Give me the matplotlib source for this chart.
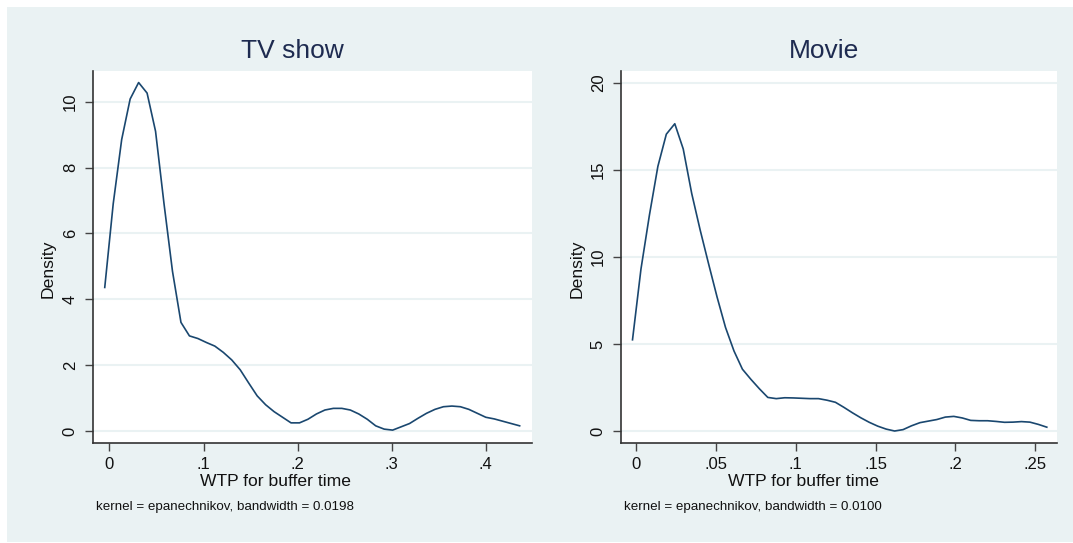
import numpy as np
import matplotlib
matplotlib.use('Agg')
import matplotlib.pyplot as plt
from matplotlib.patches import Rectangle

plt.rcParams['font.family'] = ['Liberation Sans', 'DejaVu Sans']

# kernel density estimates, 50 grid points per group
tv_x = [-0.005, 0.004, 0.013, 0.022, 0.031, 0.040, 0.049, 0.058, 0.067, 0.076,
        0.085, 0.094, 0.103, 0.112, 0.121, 0.130, 0.139, 0.148, 0.157, 0.166,
        0.175, 0.184, 0.193, 0.202, 0.211, 0.220, 0.229, 0.238, 0.247, 0.256,
        0.265, 0.274, 0.283, 0.292, 0.301, 0.310, 0.319, 0.328, 0.337, 0.346,
        0.355, 0.364, 0.373, 0.382, 0.391, 0.400, 0.409, 0.418, 0.427, 0.436]
tv_y = [4.36, 6.90, 8.85, 10.08, 10.58, 10.26, 9.10, 6.90, 4.85, 3.30,
        2.89, 2.81, 2.69, 2.58, 2.39, 2.16, 1.86, 1.46, 1.07, 0.80,
        0.59, 0.42, 0.25, 0.25, 0.36, 0.52, 0.64, 0.69, 0.69, 0.64,
        0.52, 0.36, 0.16, 0.06, 0.03, 0.13, 0.23, 0.39, 0.54, 0.66,
        0.74, 0.76, 0.74, 0.66, 0.54, 0.42, 0.37, 0.30, 0.23, 0.16]

mv_x = [-0.0024, 0.0029, 0.0082, 0.0135, 0.0188, 0.0241, 0.0294, 0.0347, 0.0400, 0.0453,
        0.0506, 0.0559, 0.0612, 0.0665, 0.0718, 0.0771, 0.0824, 0.0877, 0.0930, 0.0983,
        0.1036, 0.1089, 0.1142, 0.1195, 0.1248, 0.1301, 0.1354, 0.1407, 0.1460, 0.1513,
        0.1566, 0.1619, 0.1672, 0.1725, 0.1778, 0.1831, 0.1884, 0.1937, 0.1990, 0.2043,
        0.2096, 0.2149, 0.2202, 0.2255, 0.2308, 0.2361, 0.2414, 0.2467, 0.2520, 0.2573]
mv_y = [5.24, 9.30, 12.40, 15.20, 17.05, 17.65, 16.20, 13.65, 11.55, 9.60,
        7.70, 5.95, 4.60, 3.55, 2.97, 2.43, 1.93, 1.86, 1.91, 1.90,
        1.88, 1.86, 1.86, 1.77, 1.65, 1.36, 1.05, 0.76, 0.50, 0.28,
        0.11, 0.00, 0.08, 0.30, 0.48, 0.57, 0.66, 0.80, 0.84, 0.75,
        0.61, 0.59, 0.59, 0.55, 0.50, 0.51, 0.54, 0.51, 0.38, 0.22]

tv_xticks = [0, .1, .2, .3, .4]
tv_xlabels = ['0', '.1', '.2', '.3', '.4']
tv_yticks = [0, 2, 4, 6, 8, 10]
mv_xticks = [0, .05, .1, .15, .2, .25]
mv_xlabels = ['0', '.05', '.1', '.15', '.2', '.25']
mv_yticks = [0, 5, 10, 15, 20]

BG = '#eaf2f3'
LINE = '#1a476f'
TITLE = '#1e2b50'
W, H = 1073, 543

fig = plt.figure(figsize=(W / 100, H / 100), dpi=100, facecolor='white')
fig.patches.append(Rectangle((7 / W, 1.5 / H), 1 - 7 / W, (H - 8.5) / H,
                             transform=fig.transFigure, facecolor=BG,
                             edgecolor='none', zorder=-10))


def fx(px):
    return px / W


def fy(py):
    return 1 - py / H


def panel(left, right, x, y, xlim, ylim, xticks, xlabels, yticks,
          title, title_x, xlab_x, dens_x, note, note_x):
    ax = fig.add_axes([fx(left), fy(442.5), fx(right - left), (442.5 - 71) / H])
    ax.set_facecolor('white')
    ax.plot(x, y, color=LINE, lw=1.2, zorder=3)
    ax.set_xlim(*xlim)
    ax.set_ylim(*ylim)
    ax.set_xticks(xticks)
    ax.set_xticklabels(xlabels)
    ax.set_yticks(yticks)
    ax.set_yticklabels([str(t) for t in yticks], rotation=90, va='center')
    ax.grid(axis='y', color=BG, lw=1.5, zorder=1)
    ax.set_axisbelow(True)
    for s in ['top', 'right']:
        ax.spines[s].set_visible(False)
    for s in ['left', 'bottom']:
        ax.spines[s].set_color('#333333')
        ax.spines[s].set_linewidth(1.2)
    ax.tick_params(axis='both', direction='out', length=5.8, width=1.0,
                   color='#444444', labelsize=12, labelcolor='#111111')
    ax.tick_params(axis='x', pad=4.3)
    ax.tick_params(axis='y', pad=5)
    fig.text(fx(title_x), fy(51.2), title, fontsize=19, color=TITLE,
             ha='center', va='center')
    fig.text(fx(xlab_x), fy(481.3), 'WTP for buffer time', fontsize=12.6,
             color='#111111', ha='center', va='center')
    fig.text(fx(dens_x), fy(269), 'Density', fontsize=12.6, color='#111111',
             rotation=90, ha='center', va='center')
    fig.text(fx(note_x), fy(507.3), note, fontsize=9.6, color='#111111',
             ha='left', va='center')
    return ax


panel(92.8, 531.5, tv_x, tv_y, (-0.0177, 0.4486), (-0.346, 10.93),
      tv_xticks, tv_xlabels, tv_yticks, 'TV show', 292, 276, 48.5,
      'kernel = epanechnikov, bandwidth = 0.0198', 96.3)
panel(620.7, 1056.7, mv_x, mv_y, (-0.0098, 0.2635), (-0.66, 20.68),
      mv_xticks, mv_xlabels, mv_yticks, 'Movie', 823.6, 803.5, 576.7,
      'kernel = epanechnikov, bandwidth = 0.0100', 624.2)

fig.savefig('out.png', dpi=100, facecolor=fig.get_facecolor())
